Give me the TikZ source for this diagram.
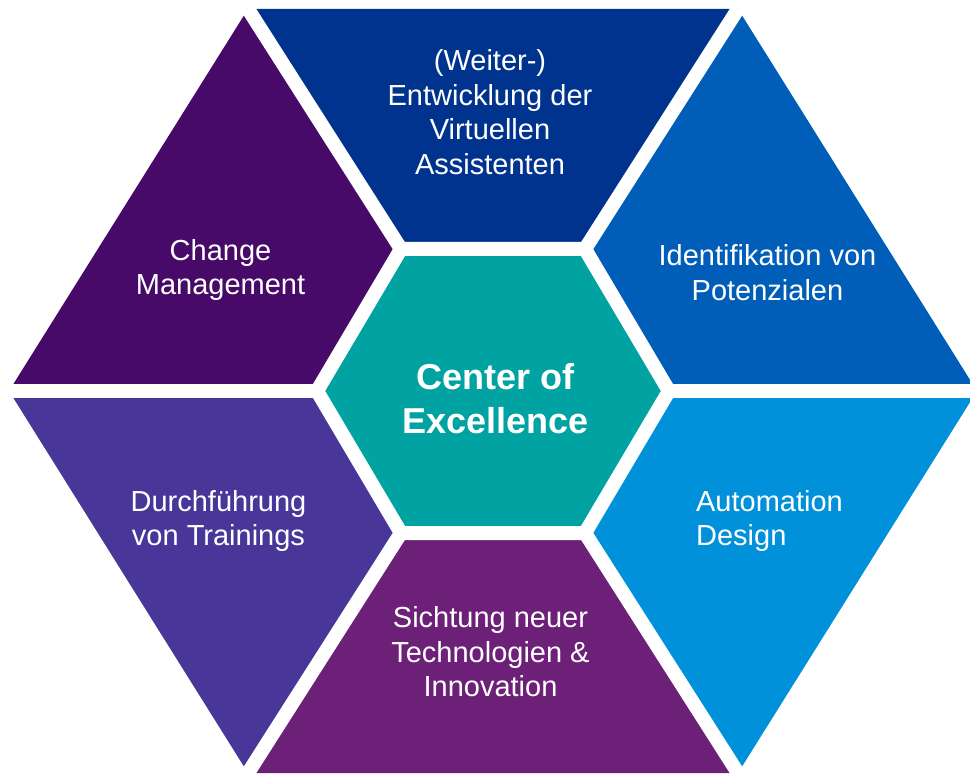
\documentclass[tikz,border=0pt]{standalone}
\usepackage{fontspec}
\setmainfont{Liberation Sans}
\definecolor{kpmgblue}{HTML}{00338D}
\definecolor{mediumblue}{HTML}{005EB8}
\definecolor{lightblue}{HTML}{0091DA}
\definecolor{lightpurple}{HTML}{6D2077}
\definecolor{violet}{HTML}{483698}
\definecolor{darkpurple}{HTML}{470A68}
\definecolor{coreteal}{HTML}{00A3A1}
\begin{document}
\begin{tikzpicture}[x=1pt,y=1pt,
                    divider/.style={draw=white,line width=14pt},
                    piece text/.style={text=white,align=center,font=\fontsize{29}{34.5}\selectfont},
                    core text/.style={text=white,align=center,font=\fontsize{36}{44}\selectfont\bfseries}
                   ]
  \useasboundingbox (-493,-383) rectangle (477,391);
  % outer and inner corners
  \coordinate (o1) at (-484,0);
  \coordinate (o2) at (-245,382);
  \coordinate (o3) at (245,382);
  \coordinate (o4) at (484,0);
  \coordinate (o5) at (245,-382);
  \coordinate (o6) at (-245,-382);
  \coordinate (i1) at (-176,0);
  \coordinate (i2) at (-92,142);
  \coordinate (i3) at (92,142);
  \coordinate (i4) at (176,0);
  \coordinate (i5) at (92,-142);
  \coordinate (i6) at (-92,-142);

  \fill[kpmgblue] (o2) -- (o3) -- (i3) -- (i2) -- cycle;
  \fill[mediumblue] (o3) -- (o4) -- (i4) -- (i3) -- cycle;
  \fill[lightblue] (o4) -- (o5) -- (i5) -- (i4) -- cycle;
  \fill[lightpurple] (o5) -- (o6) -- (i6) -- (i5) -- cycle;
  \fill[violet] (o6) -- (o1) -- (i1) -- (i6) -- cycle;
  \fill[darkpurple] (o1) -- (o2) -- (i2) -- (i1) -- cycle;

  \draw[divider] (o1) -- (i1);
  \draw[divider] (o2) -- (i2);
  \draw[divider] (o3) -- (i3);
  \draw[divider] (o4) -- (i4);
  \draw[divider] (o5) -- (i5);
  \draw[divider] (o6) -- (i6);
  \filldraw[fill=coreteal,divider] (i1) -- (i2) -- (i3) -- (i4) -- (i5) -- (i6) -- cycle;

  \node[piece text] (dev) at (-3,279) {(Weiter-)\\Entwicklung der\\Virtuellen\\Assistenten};
  \node[piece text] (ident) at (274.5,118.5) {Identifikation von\\Potenzialen};
  \node[piece text,align=left] (auto) at (276.5,-130) {Automation\\Design};
  \node[piece text] (scan) at (-2.5,-261) {Sichtung neuer\\Technologien \&\\Innovation};
  \node[piece text] (train) at (-274.5,-130) {Durchführung\\von Trainings};
  \node[piece text] (change) at (-272.5,121) {Change\\Management};
  \node[core text] (coe) at (2.5,-8) {Center of\\Excellence};
\end{tikzpicture}
\end{document}
